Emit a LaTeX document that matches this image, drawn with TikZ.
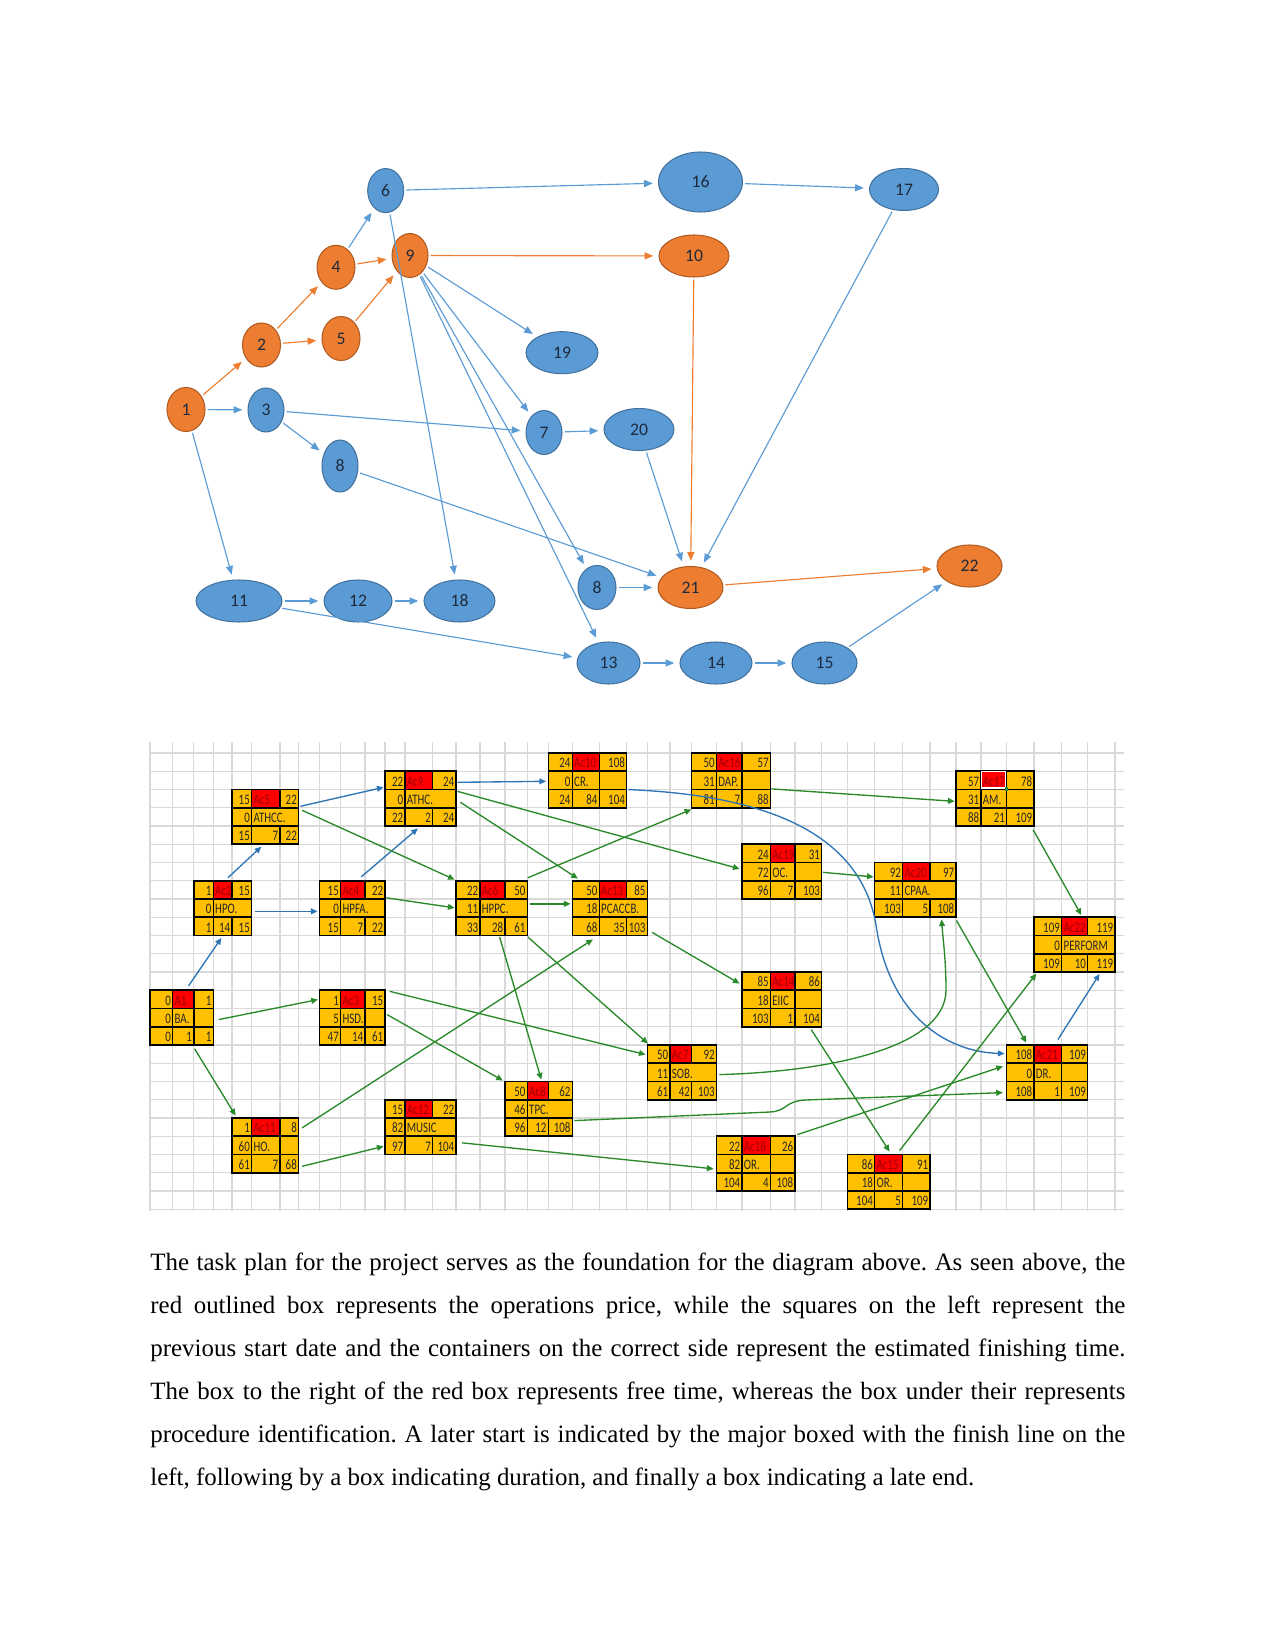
\documentclass[tikz,border=0pt]{standalone}
\usepackage{fontspec}
\setmainfont{Liberation Serif}
\newfontfamily\cellfont[FakeStretch=0.75]{Carlito}
\newfontfamily\evfont{Carlito}
\usetikzlibrary{shapes.geometric,arrows.meta,calc,fit}
\definecolor{evBlueF}{HTML}{5B9BD5}
\definecolor{evBlueD}{HTML}{41719C}
\definecolor{evOrgF}{HTML}{ED7D31}
\definecolor{evOrgD}{HTML}{AE5A21}
\definecolor{evInk}{HTML}{1F2A3C}
\definecolor{cellF}{HTML}{FFC000}
\definecolor{accF}{HTML}{FF0000}
\definecolor{accInk}{HTML}{9C0006}
\definecolor{cellInk}{HTML}{262626}
\definecolor{gridC}{HTML}{D9D9D9}
\definecolor{linkB}{HTML}{2E75B6}
\definecolor{linkG}{HTML}{2A8A2A}
\def\pxu{0.4818pt}
% column borders of the sheet, in px
\def\colx{{150,172.7,193.8,213.3,232,251.7,280,298.7,319.3,340.7,365,385,405,432.7,456,480,505,527.3,548.3,572.3,599.3,626.7,647.3,670,691.7,716.5,742,770.5,795,821.7,847.3,874.7,902.7,930,956,981,1006.7,1034,1061.7,1087.7,1115}}
\tikzset{
  ev/.style={ellipse, inner sep=0pt, line width=0.5pt,
             font=\evfont\fontsize{8.5}{10}\selectfont, text=evInk},
  blu/.style={fill=evBlueF, draw=evBlueD},
  org/.style={fill=evOrgF, draw=evOrgD},
  sz/.style 2 args={minimum width=#1*\pxu, minimum height=#2*\pxu},
  flowB/.style={-{Triangle[length=4.2pt,width=3.4pt]}, line width=0.55pt,
                draw=evBlueF, shorten <=1pt, shorten >=2.5pt},
  flowO/.style={flowB, draw=evOrgF},
  gridln/.style={draw=gridC, line width=0.55pt},
  cellln/.style={draw=black, line width=0.75pt},
  num/.style={anchor=base east, inner sep=0pt,
              font=\cellfont\fontsize{7}{8}\selectfont, text=cellInk},
  lab/.style={num, anchor=base west},
  acl/.style={lab, text=accInk},
  linkb/.style={-{Triangle[length=3.2pt,width=2.8pt]}, line width=0.65pt, draw=linkB},
  linkg/.style={linkb, draw=linkG},
}
% #1 name, #2 first column, #3 row, #4 ES/Ac/EF, #5 float/name/split, #6 LS/dur/LF
\newcommand{\actbox}[6]{%
  \pgfmathsetmacro{\xa}{\colx[#2]}%
  \pgfmathsetmacro{\xb}{\colx[#2+1]}%
  \pgfmathsetmacro{\xc}{\colx[#2+2]}%
  \pgfmathsetmacro{\xd}{\colx[#2+3]}%
  \pgfmathsetmacro{\ya}{753+18.25*#3}%
  \pgfmathsetmacro{\yb}{\ya+18.25}%
  \pgfmathsetmacro{\yc}{\ya+36.5}%
  \pgfmathsetmacro{\yd}{\ya+54.75}%
  \fill[cellF] (\xa,\ya) rectangle (\xd,\yd);
  \fill[accF] (\xb,\ya) rectangle (\xc,\yb);
  \draw[cellln] (\xa,\yb) -- (\xd,\yb) (\xa,\yc) -- (\xd,\yc)
    (\xb,\ya) -- (\xb,\yd) (\xc,\ya) -- (\xc,\yb) (\xc,\yc) -- (\xc,\yd);
  \draw[cellln] (\xa,\ya) rectangle (\xd,\yd);
  \foreach \ca/\cb/\cc in {#4} {
    \node[num] (#1-es) at ({\xb-1.5},{\yb-3.5}) {\ca};
    \node[acl] (#1-ac) at ({\xb+1.5},{\yb-3.5}) {\cb};
    \node[num] (#1-ef) at ({\xd-1.5},{\yb-3.5}) {\cc};
  }
  \foreach \cd/\ce/\cf in {#5} {
    \node[num] (#1-fl) at ({\xb-1.5},{\yc-3.5}) {\cd};
    \node[lab] (#1-nm) at ({\xb+1.5},{\yc-3.5}) {\ce};
    \ifnum\cf=1 \draw[cellln] (\xc,\yb) -- (\xc,\yc); \fi
  }
  \foreach \cg/\ch/\ci in {#6} {
    \node[num] (#1-ls) at ({\xb-1.5},{\yd-3.5}) {\cg};
    \node[num] (#1-du) at ({\xc-1.5},{\yd-3.5}) {\ch};
    \node[num] (#1-lf) at ({\xd-1.5},{\yd-3.5}) {\ci};
  }
  \coordinate (#1nw) at (\xa,\ya);
  \coordinate (#1se) at (\xd,\yd);
  \node[fit=(#1nw)(#1se), inner sep=0pt] (#1) {};
}

\begin{document}
\frenchspacing
\begin{tikzpicture}[x=0.4818pt, y=-0.4818pt]
  \path[use as bounding box] (0,0) rectangle (1275,1651);

  % ---------------------------------------------------------- the event graph
  \node[ev, org, sz={38}{44}] (n1) at (186,409.5) {1};
  \node[ev, org, sz={38}{44}] (n2) at (261.5,345) {2};
  \node[ev, blu, sz={36}{44}] (n3) at (266,410) {3};
  \node[ev, org, sz={38}{44}] (n4) at (336,267.3) {4};
  \node[ev, org, sz={38}{44}] (n5) at (341,338.5) {5};
  \node[ev, blu, sz={36}{44}] (n6) at (385.7,190.6) {6};
  \node[ev, org, sz={36}{44}] (n9) at (410,255.5) {9};
  \node[ev, blu, sz={84}{60}] (n16) at (700.5,182) {16};
  \node[ev, org, sz={70}{42}] (n10) at (694,256) {10};
  \node[ev, blu, sz={69}{42}] (n17) at (904,189.5) {17};
  \node[ev, blu, sz={72}{42}] (n19) at (562,352.7) {19};
  \node[ev, blu, sz={36}{44}] (n7) at (544,432.5) {7};
  \node[ev, blu, sz={70}{42}] (n20) at (639,429.5) {20};
  \node[ev, blu, sz={36}{52}] (n8a) at (340,466) {8};
  \node[ev, blu, sz={86}{42}] (n11) at (239,601) {11};
  \node[ev, blu, sz={68}{42}] (n12) at (358,601) {12};
  \node[ev, blu, sz={71}{42}] (n18) at (459.5,601) {18};
  \node[ev, blu, sz={38}{44}] (n8b) at (597,587.5) {8};
  \node[ev, org, sz={65}{42}] (n21) at (690.5,587.5) {21};
  \node[ev, org, sz={65}{42}] (n22) at (969.5,566) {22};
  \node[ev, blu, sz={63}{42}] (n13) at (608.5,663) {13};
  \node[ev, blu, sz={72}{42}] (n14) at (716,663) {14};
  \node[ev, blu, sz={65}{42}] (n15) at (824.5,663) {15};

  \draw[flowO] (n1) -- (n2);
  \draw[flowB] (n1) -- (n3);
  \draw[flowB] (n1) -- (n11);
  \draw[flowO] (n2) -- (n4);
  \draw[flowO] (n2) -- (n5);
  \draw[flowB] (n4) -- (n6);
  \draw[flowO] (n4) -- (n9);
  \draw[flowO] (n5) -- (n9);
  \draw[flowB] (n6) -- (n16);
  \draw[flowB] (n6) -- (n18);
  \draw[flowO] (n9) -- (n10);
  \draw[flowB] (n9) -- (n19);
  \draw[flowB] (n9) -- (n7);
  \draw[flowB] (n9) -- (n8b);
  \draw[flowB] (n9) -- (n13);
  \draw[flowB] (n3) -- (n7);
  \draw[flowB] (n3) -- (n8a);
  \draw[flowB] (n8a) -- (n21);
  \draw[flowB] (n7) -- (n20);
  \draw[flowB] (n20) -- (n21);
  \draw[flowO] (n10) -- (n21);
  \draw[flowB] (n16) -- (n17);
  \draw[flowB] (n17) -- (n21);
  \draw[flowB] (n11) -- (n12);
  \draw[flowB] (n12) -- (n18);
  \draw[flowB] (n11) -- (n13);
  \draw[flowB] (n8b) -- (n21);
  \draw[flowB] (n13) -- (n14);
  \draw[flowB] (n14) -- (n15);
  \draw[flowB] (n15) -- (n22);
  \draw[flowO] (n21) -- (n22);

  % ---------------------------------------------------------- the sheet
  \foreach \i in {0,...,40} {
    \pgfmathsetmacro{\gx}{\colx[\i]}
    \draw[gridln] (\gx,742) -- (\gx,1211);
  }
  \foreach \k in {0,...,25}
    \draw[gridln] (150,{753+18.25*\k}) -- (1124,{753+18.25*\k});

  \actbox{a1}{0}{13}{0/A1/1}{0/BA./1}{0/1/1}
  \actbox{ac2}{2}{7}{1/Ac2/15}{0/HPO./0}{1/14/15}
  \actbox{ac3}{8}{13}{1/Ac3/15}{5/HSD./1}{47/14/61}
  \actbox{ac4}{8}{7}{15/Ac4/22}{0/HPFA./0}{15/7/22}
  \actbox{ac5}{4}{2}{15/Ac5/22}{0/ATHCC./0}{15/7/22}
  \actbox{ac6}{14}{7}{22/Ac6/50}{11/HPPC./0}{33/28/61}
  \actbox{ac7}{22}{16}{50/Ac7/92}{11/SOB./0}{61/42/103}
  \actbox{ac8}{16}{18}{50/Ac8/62}{46/TPC./0}{96/12/108}
  \actbox{ac9}{11}{1}{22/Ac9/24}{0/ATHC./0}{22/2/24}
  \actbox{ac10}{18}{0}{24/Ac10/108}{0/CR./1}{24/84/104}
  \actbox{ac11}{4}{20}{1/Ac11/8}{60/HO./1}{61/7/68}
  \actbox{ac12}{11}{19}{15/Ac12/22}{82/MUSIC/0}{97/7/104}
  \actbox{ac13}{19}{7}{50/Ac13/85}{18/PCACCB./0}{68/35/103}
  \actbox{ac14}{26}{12}{85/Ac14/86}{18/EIIC/1}{103/1/104}
  \actbox{ac15}{30}{22}{86/Ac15/91}{18/OR./1}{104/5/109}
  \actbox{ac16}{24}{0}{50/Ac16/57}{31/DAP./1}{81/7/88}
  \actbox{ac17}{34}{1}{57/Ac17/78}{31/AM./1}{88/21/109}
  \actbox{ac18}{25}{21}{22/Ac18/26}{82/OR./1}{104/4/108}
  \actbox{ac19}{26}{5}{24/Ac19/31}{72/OC./1}{96/7/103}
  \actbox{ac20}{31}{6}{92/Ac20/97}{11/CPAA./0}{103/5/108}
  \actbox{ac21}{36}{16}{108/Ac21/109}{0/DR./1}{108/1/109}
  \actbox{ac22}{37}{9}{109/Ac22/119}{0/PERFORM/0}{109/10/119}

  % selected cell
  \draw[white, line width=0.6pt] ($(ac17.north west)+(26,1)$) rectangle ($(ac17.north west)+(49.7,17.2)$);
  \fill[linkG] ($(ac17.north west)+(49,16.5)$) rectangle ($(ac17.north west)+(52.5,20)$);

  % blue links
  \draw[linkb] ($(a1.north west)+(39,-4)$) -- ($(ac2.south west)+(28,2)$);
  \draw[linkb] ($(ac2.north west)+(34.5,-2.5)$) -- ($(ac5.south west)+(29.7,2)$);
  \draw[linkb] ($(ac2.north east)+(3.3,31)$) -- ($(ac4.north west)+(-1.3,31)$);
  \draw[linkb] ($(ac4.north west)+(42.4,-3.5)$) -- ($(ac9.south west)+(33.3,2)$);
  \draw[linkb] ($(ac5.north east)+(1.3,17.2)$) -- ($(ac9.north west)+(-1,16.5)$);
  \draw[linkb] ($(ac9.north east)+(1,11.5)$) -- ($(ac10.north west)+(-1.8,28.7)$);
  \draw[linkb] ($(ac10.north east)+(1.3,37)$) .. controls (760,795) and (860,830) .. (876,925)
    .. controls (890,1020) and (950,1052) .. ($(ac21.north west)+(-1.7,9)$);
  \draw[linkb] ($(ac21.north west)+(51.6,-5)$) -- ($(ac22.south west)+(66,1.5)$);

  % green links
  \draw[linkg] ($(a1.north east)+(5,29.75)$) -- ($(ac3.north west)+(-1,9.75)$);
  \draw[linkg] ($(a1.south west)+(45,3.3)$) -- ($(ac11.north west)+(4,-2)$);
  \draw[linkg] ($(ac11.north east)+(3,10.3)$) -- ($(ac13.south west)+(21,3.5)$);
  \draw[linkg] ($(ac11.north east)+(3,48.7)$) -- ($(ac12.north west)+(-1,47)$);
  \draw[linkg] ($(ac12.north east)+(5.7,43.5)$) -- ($(ac18.north west)+(-2.5,33)$);
  \draw[linkg] ($(ac3.north east)+(4.3,1.5)$) -- ($(ac7.north west)+(-1.3,10)$);
  \draw[linkg] ($(ac3.north east)+(1.7,24.75)$) -- ($(ac8.north west)+(-1.7,-0.5)$);
  \draw[linkg] ($(ac5.north east)+(3,21.2)$) -- ($(ac6.north west)+(-1,-0.75)$);
  \draw[linkg] ($(ac4.north east)+(1,17.5)$) -- ($(ac6.north west)+(-1,27.5)$);
  \draw[linkg] ($(ac9.north east)+(4,31.5)$) -- ($(ac13.north west)+(6,-1.75)$);
  \draw[linkg] ($(ac9.north east)+(1,20.5)$) -- ($(ac19.north west)+(-2,25)$);
  \draw[linkg] ($(ac6.north east)+(0,-2.5)$) -- ($(ac16.south west)+(0,1.25)$);
  \draw[linkg] ($(ac6.north east)+(2.7,23.5)$) -- ($(ac13.north west)+(-1.3,23.5)$);
  \draw[linkg] ($(ac6.south west)+(44,1)$) -- ($(ac8.north west)+(36.7,-1.5)$);
  \draw[linkg] ($(ac6.south east)+(0,1)$) -- ($(ac7.north west)+(1,-1)$);
  \draw[linkg] ($(ac13.north east)+(4.4,52)$) -- ($(ac14.north west)+(-2,12)$);
  \draw[linkg] ($(ac16.north east)+(0.5,36.3)$) -- ($(ac17.north west)+(-1,30.5)$);
  \draw[linkg] ($(ac19.north east)+(0.8,28.5)$) -- ($(ac20.north west)+(-0.7,14.8)$);
  \draw[linkg] ($(ac17.south east)+(-1.3,3.3)$) -- ($(ac22.north west)+(47.7,-1.75)$);
  \draw[linkg] ($(ac20.south east)+(0,2.75)$) -- ($(ac21.north west)+(20,-2)$);
  \draw[linkg] ($(ac7.north east)+(2.5,30)$) .. controls (820,1072) and (946,1050) .. (946,990)
    .. controls (946,960) and (943,940) .. ($(ac20.south west)+(67.3,1.75)$);
  \draw[linkg] ($(ac8.north east)+(1.7,39.5)$) -- (770,1112) .. controls (788,1111) and (784,1101) .. (806,1100)
    -- ($(ac21.north west)+(-3.4,48)$);
  \draw[linkg] ($(ac18.north east)+(2,-1.25)$) -- ($(ac21.north west)+(-3.4,21.7)$);
  \draw[linkg] ($(ac14.south west)+(69.7,2.5)$) -- ($(ac15.north west)+(42.7,-2.5)$);
  \draw[linkg] ($(ac15.north west)+(52.7,-3.5)$) -- ($(ac22.south west)+(2.7,1.3)$);

  % ---------------------------------------------------------- the text
  \node[anchor=north west, inner sep=0pt, text width=469.75pt, align=justify,
        font=\fontsize{12}{20.7}\selectfont] (para) at (150,1253)
    {The task plan for the project serves as the foundation for the diagram above. As seen above, the\linebreak
     red outlined box represents the operations price, while the squares on the left represent the\linebreak
     previous start date and the containers on the correct side represent the estimated finishing time.\linebreak
     The box to the right of the red box represents free time, whereas the box under their represents\linebreak
     procedure identification. A later start is indicated by the major boxed with the finish line on the\linebreak
     left, following by a box indicating duration, and finally a box indicating a late end.};
\end{tikzpicture}
\end{document}
